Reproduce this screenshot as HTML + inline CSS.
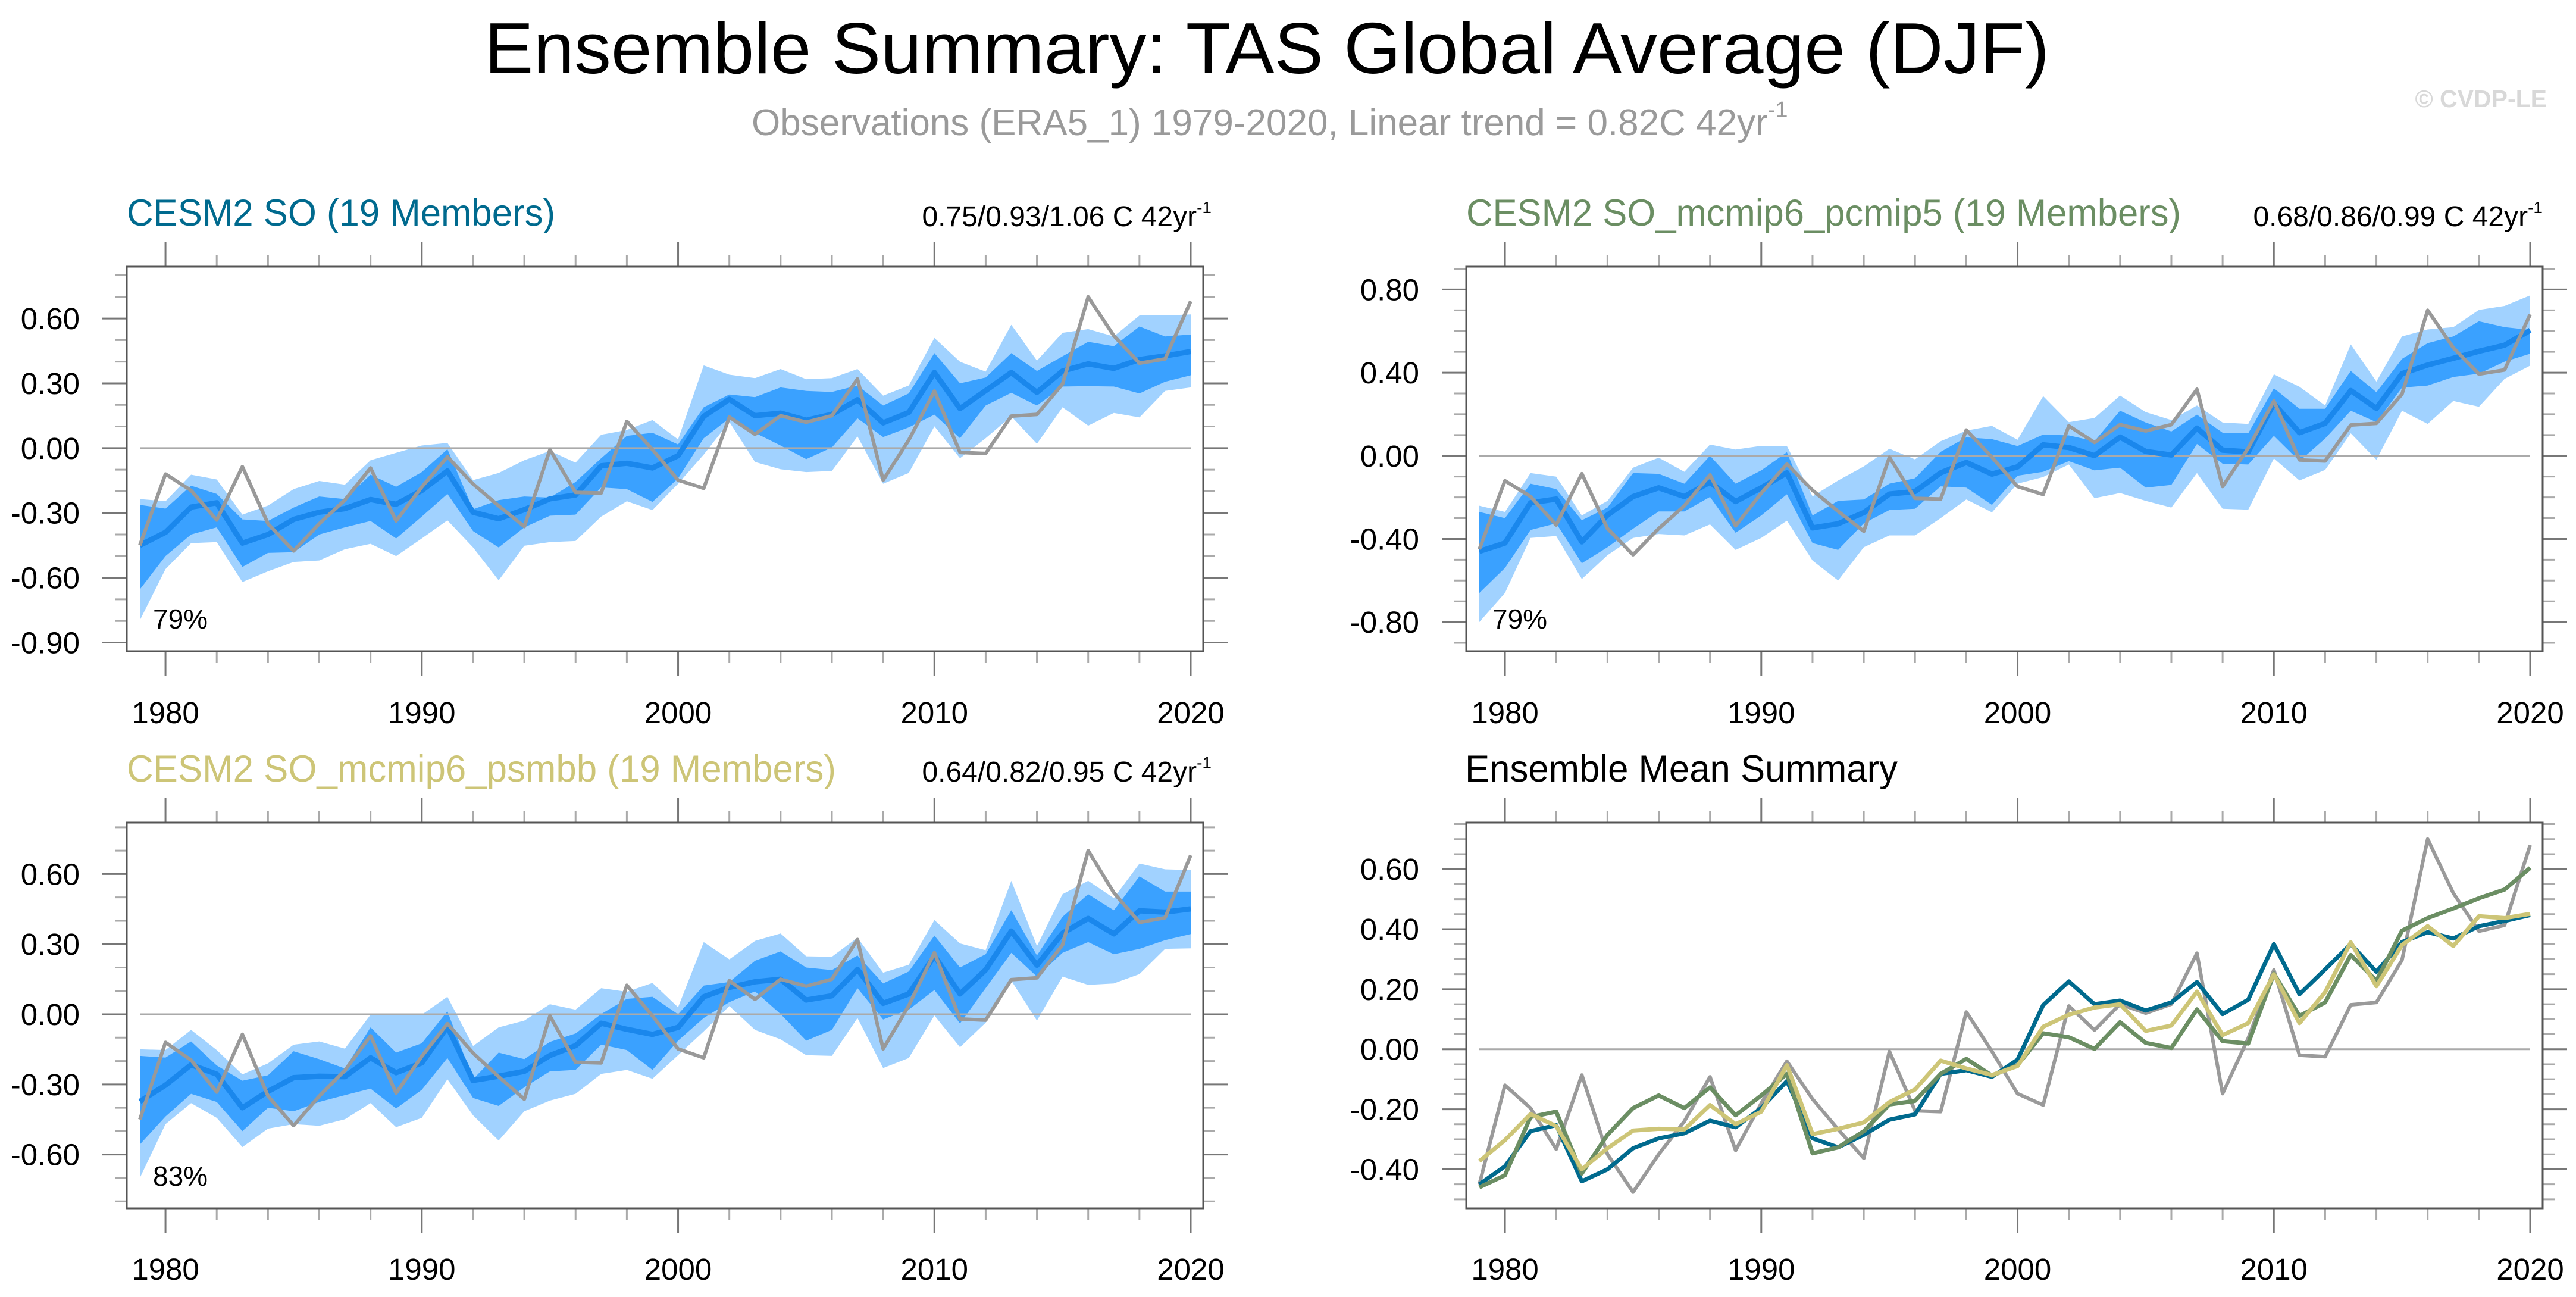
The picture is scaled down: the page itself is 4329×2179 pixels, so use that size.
<!DOCTYPE html>
<html><head><meta charset="utf-8">
<style>
html,body{margin:0;padding:0;background:#fff;}
svg{display:block;font-family:"Liberation Sans",Arial,sans-serif;}
</style></head>
<body>
<svg id="chart" xmlns="http://www.w3.org/2000/svg" width="4329" height="2179" viewBox="0 0 4329 2179">
<rect width="4329" height="2179" fill="#fff"/>
<text x="814" y="123" font-size="122" fill="#000" textLength="2630" lengthAdjust="spacingAndGlyphs">Ensemble Summary: TAS Global Average (DJF)</text>
<text x="1263" y="227" font-size="62" fill="#9a9a9a">Observations (ERA5_1) 1979-2020, Linear trend = 0.82C 42yr<tspan font-size="38" dy="-30">-1</tspan></text>
<text x="4280" y="180" font-size="41" font-weight="bold" fill="#d8d8d8" text-anchor="end">© CVDP-LE</text>

<text x="213" y="379" font-size="63" fill="#006a8e" textLength="720" lengthAdjust="spacingAndGlyphs">CESM2 SO (19 Members)</text>
<text x="2036" y="380" font-size="48" fill="#000" text-anchor="end">0.75/0.93/1.06 C 42yr<tspan font-size="28" dy="-22">-1</tspan></text>
<text x="2464" y="379" font-size="63" fill="#6b8e63" textLength="1201" lengthAdjust="spacingAndGlyphs">CESM2 SO_mcmip6_pcmip5 (19 Members)</text>
<text x="4273" y="380" font-size="48" fill="#000" text-anchor="end">0.68/0.86/0.99 C 42yr<tspan font-size="28" dy="-22">-1</tspan></text>
<text x="213" y="1313" font-size="63" fill="#cdc577" textLength="1192" lengthAdjust="spacingAndGlyphs">CESM2 SO_mcmip6_psmbb (19 Members)</text>
<text x="2036" y="1313" font-size="48" fill="#000" text-anchor="end">0.64/0.82/0.95 C 42yr<tspan font-size="28" dy="-22">-1</tspan></text>
<text x="2462" y="1313" font-size="63" fill="#000" textLength="727" lengthAdjust="spacingAndGlyphs">Ensemble Mean Summary</text>
<g id="plots"></g>
</svg>
<script>
// ---- data (1979-2020) ----
const yearStart = 1979;
const yearEnd = 2020;
const xTickLabels = ["1980","1990","2000","2010","2020"];
const obs = [-0.45,-0.12,-0.196,-0.333,-0.086,-0.35,-0.476,-0.35,-0.24,-0.092,-0.337,-0.18,-0.04,-0.166,-0.267,-0.363,-0.007,-0.205,-0.208,0.124,-0.007,-0.148,-0.186,0.144,0.064,0.15,0.12,0.15,0.32,-0.148,0.037,0.264,-0.02,-0.025,0.148,0.156,0.297,0.70,0.52,0.393,0.413,0.68];
const meanSO = [-0.45,-0.39,-0.273,-0.253,-0.44,-0.40,-0.33,-0.297,-0.28,-0.238,-0.26,-0.196,-0.106,-0.297,-0.327,-0.285,-0.235,-0.217,-0.082,-0.07,-0.092,-0.035,0.147,0.226,0.15,0.162,0.129,0.156,0.224,0.117,0.165,0.35,0.183,0.266,0.35,0.258,0.357,0.39,0.369,0.41,0.427,0.447];
const meanP5 = [-0.46,-0.42,-0.226,-0.208,-0.414,-0.285,-0.196,-0.154,-0.196,-0.127,-0.22,-0.154,-0.082,-0.347,-0.327,-0.273,-0.184,-0.172,-0.082,-0.032,-0.088,-0.053,0.053,0.04,0.001,0.09,0.021,0.004,0.133,0.027,0.019,0.252,0.111,0.156,0.314,0.228,0.395,0.437,0.469,0.503,0.532,0.604];
const meanBB = [-0.373,-0.303,-0.216,-0.256,-0.40,-0.33,-0.271,-0.265,-0.267,-0.186,-0.25,-0.208,-0.053,-0.283,-0.265,-0.244,-0.176,-0.134,-0.038,-0.064,-0.086,-0.056,0.075,0.115,0.139,0.15,0.061,0.079,0.192,0.047,0.087,0.25,0.087,0.19,0.356,0.21,0.347,0.41,0.344,0.443,0.437,0.451];
// SO bands
const soOuterHi = [-0.236,-0.246,-0.123,-0.145,-0.308,-0.266,-0.19,-0.152,-0.169,-0.056,-0.022,0.012,0.024,-0.148,-0.115,-0.056,-0.013,-0.067,0.062,0.084,0.13,0.04,0.383,0.34,0.324,0.366,0.319,0.324,0.366,0.243,0.29,0.51,0.40,0.354,0.571,0.405,0.534,0.551,0.517,0.614,0.614,0.619];
const soInnerHi = [-0.263,-0.28,-0.174,-0.212,-0.33,-0.337,-0.275,-0.224,-0.236,-0.123,-0.179,-0.111,-0.005,-0.283,-0.241,-0.224,-0.229,-0.157,-0.047,0.057,0.071,0.017,0.189,0.248,0.236,0.281,0.265,0.26,0.29,0.197,0.253,0.44,0.30,0.327,0.44,0.357,0.425,0.492,0.472,0.563,0.517,0.526];
const soInnerLo = [-0.654,-0.50,-0.40,-0.367,-0.55,-0.485,-0.482,-0.40,-0.367,-0.337,-0.418,-0.317,-0.212,-0.384,-0.46,-0.367,-0.313,-0.308,-0.182,-0.19,-0.249,-0.14,0.046,0.138,0.071,0.012,-0.051,0.003,0.138,0.051,0.096,0.155,0.046,0.197,0.256,0.197,0.285,0.287,0.285,0.253,0.307,0.337];
const soOuterLo = [-0.797,-0.56,-0.44,-0.435,-0.62,-0.57,-0.527,-0.52,-0.468,-0.443,-0.50,-0.418,-0.334,-0.46,-0.612,-0.452,-0.435,-0.43,-0.317,-0.246,-0.287,-0.165,-0.03,0.121,-0.064,-0.098,-0.111,-0.106,0.054,-0.165,-0.115,0.101,-0.047,0.046,0.147,0.02,0.189,0.104,0.163,0.142,0.265,0.281];
// pcmip5 bands
const p5OuterHi = [-0.24,-0.27,-0.083,-0.10,-0.287,-0.217,-0.057,-0.009,-0.077,0.054,0.03,0.048,0.047,-0.195,-0.119,-0.051,0.034,-0.017,0.07,0.121,0.144,0.077,0.287,0.162,0.182,0.29,0.21,0.172,0.242,0.16,0.153,0.392,0.332,0.242,0.536,0.357,0.574,0.608,0.619,0.702,0.721,0.772];
const p5InnerHi = [-0.27,-0.30,-0.134,-0.16,-0.31,-0.249,-0.083,-0.087,-0.134,0.0,-0.134,-0.07,0.017,-0.287,-0.217,-0.21,-0.134,-0.108,0.019,0.089,0.08,0.047,0.102,0.098,0.07,0.217,0.16,0.117,0.198,0.111,0.108,0.325,0.226,0.226,0.408,0.306,0.466,0.542,0.574,0.647,0.619,0.606];
const p5InnerLo = [-0.66,-0.54,-0.357,-0.325,-0.517,-0.44,-0.351,-0.268,-0.268,-0.198,-0.37,-0.287,-0.185,-0.42,-0.453,-0.325,-0.261,-0.255,-0.147,-0.153,-0.236,-0.096,-0.077,-0.026,-0.07,-0.057,-0.153,-0.14,0.057,-0.038,-0.042,0.096,-0.026,0.083,0.217,0.162,0.328,0.338,0.379,0.395,0.453,0.491];
const p5OuterLo = [-0.80,-0.66,-0.395,-0.386,-0.593,-0.478,-0.395,-0.376,-0.383,-0.33,-0.453,-0.395,-0.312,-0.504,-0.60,-0.44,-0.383,-0.383,-0.30,-0.21,-0.272,-0.134,-0.102,-0.042,-0.204,-0.179,-0.217,-0.249,-0.083,-0.255,-0.259,-0.013,-0.119,-0.068,0.108,-0.019,0.217,0.153,0.264,0.236,0.37,0.434];
// psmbb bands
const bbOuterHi = [-0.15,-0.153,-0.067,-0.153,-0.257,-0.21,-0.13,-0.116,-0.147,-0.002,-0.005,-0.002,0.075,-0.136,-0.056,-0.027,0.043,0.02,0.112,0.096,0.134,0.03,0.309,0.235,0.314,0.346,0.248,0.246,0.328,0.178,0.212,0.403,0.303,0.274,0.571,0.292,0.514,0.571,0.497,0.645,0.62,0.617];
const bbInnerHi = [-0.178,-0.185,-0.116,-0.219,-0.284,-0.261,-0.158,-0.192,-0.232,-0.056,-0.164,-0.124,0.013,-0.278,-0.164,-0.192,-0.118,-0.082,0.001,0.066,0.075,0.0,0.123,0.138,0.229,0.269,0.20,0.189,0.252,0.132,0.183,0.337,0.20,0.257,0.445,0.252,0.417,0.514,0.445,0.59,0.525,0.525];
const bbInnerLo = [-0.557,-0.437,-0.34,-0.375,-0.50,-0.40,-0.415,-0.375,-0.346,-0.318,-0.403,-0.323,-0.187,-0.358,-0.392,-0.312,-0.244,-0.238,-0.13,-0.153,-0.238,-0.113,-0.016,0.052,0.098,0.001,-0.113,-0.067,0.112,-0.022,0.02,0.104,-0.039,0.112,0.263,0.161,0.263,0.309,0.257,0.28,0.317,0.343];
const bbOuterLo = [-0.70,-0.47,-0.38,-0.443,-0.568,-0.489,-0.47,-0.477,-0.449,-0.38,-0.483,-0.443,-0.278,-0.432,-0.54,-0.415,-0.369,-0.34,-0.255,-0.238,-0.276,-0.175,-0.073,0.035,-0.067,-0.107,-0.175,-0.178,-0.016,-0.23,-0.187,-0.005,-0.141,-0.036,0.144,-0.027,0.161,0.126,0.132,0.172,0.28,0.282];

const NS = "http://www.w3.org/2000/svg";
const root = document.getElementById('plots');
function mk(tag, attrs, parent) {
  const e = document.createElementNS(NS, tag);
  for (const k in attrs) e.setAttribute(k, attrs[k]);
  (parent || root).appendChild(e);
  return e;
}
const panels = {
  tl: {x0:213, x1:2022, y0:448, y1:1094, vmax:0.84, vmin:-0.94, major:0.3, minor:0.1, yl:1215},
  tr: {x0:2464, x1:4273, y0:448, y1:1094, vmax:0.91, vmin:-0.94, major:0.4, minor:0.1, yl:1215},
  bl: {x0:213, x1:2022, y0:1382, y1:2030, vmax:0.82, vmin:-0.83, major:0.3, minor:0.1, yl:2150},
  br: {x0:2464, x1:4273, y0:1382, y1:2030, vmax:0.755, vmin:-0.53, major:0.2, minor:0.05, yl:2150}
};
function xs(p, yr) { return p.x0 + 22 + (yr - yearStart) * ((p.x1 - 21 - (p.x0 + 22)) / (yearEnd - yearStart)); }
function ys(p, v) { return p.y0 + (p.vmax - v) / (p.vmax - p.vmin) * (p.y1 - p.y0); }
function linePts(p, arr) { return arr.map((v, i) => xs(p, yearStart + i).toFixed(1) + ',' + ys(p, v).toFixed(1)).join(' '); }
function bandPts(p, hi, lo) {
  const a = hi.map((v, i) => xs(p, yearStart + i).toFixed(1) + ',' + ys(p, v).toFixed(1));
  const b = lo.map((v, i) => xs(p, yearStart + i).toFixed(1) + ',' + ys(p, v).toFixed(1)).reverse();
  return a.concat(b).join(' ');
}
function axes(name, p) {
  const g = mk('g', {});
  
  
  const nmin = Math.ceil(p.vmin / p.minor - 1e-6), nmax = Math.floor(p.vmax / p.minor + 1e-6);
  const ratio = Math.round(p.major / p.minor);
  for (let k = nmin; k <= nmax; k++) {
    const v = k * p.minor, y = ys(p, v);
    const isMaj = (k % ratio === 0);
    const L = isMaj ? 41 : 20;
    mk('line', {x1:p.x0 - L, x2:p.x0, y1:y, y2:y, stroke: isMaj ? '#777' : '#aaa', 'stroke-width':3}, g);
    mk('line', {x1:p.x1, x2:p.x1 + L, y1:y, y2:y, stroke: isMaj ? '#777' : '#aaa', 'stroke-width':3}, g);
    if (isMaj) {
      const t = mk('text', {x:p.x0 - 79, y:y + 18, 'font-size':51, 'text-anchor':'end', fill:'#000'}, g);
      
      
      t.textContent = (Math.abs(v) < 1e-9 ? 0 : v).toFixed(2);
    }
  }
  for (let yr = 1980; yr <= yearEnd; yr += 2) {
    const x = xs(p, yr), isMaj = (yr % 10 === 0), L = isMaj ? 41 : 20;
    mk('line', {x1:x, x2:x, y1:p.y0 - L, y2:p.y0, stroke: isMaj ? '#777' : '#aaa', 'stroke-width':3}, g);
    mk('line', {x1:x, x2:x, y1:p.y1, y2:p.y1 + L, stroke: isMaj ? '#777' : '#aaa', 'stroke-width':3}, g);
  }
  xTickLabels.forEach(lbl => {
    const t = mk('text', {x:xs(p, +lbl), y:p.yl, 'font-size':51, 'text-anchor':'middle', fill:'#000'}, g);
    
    
    t.textContent = lbl;
  });
}
function frame(name, p) {
  const r = mk('rect', {x:p.x0, y:p.y0, width:p.x1 - p.x0, height:p.y1 - p.y0, fill:'none', stroke:'#555', 'stroke-width':3});
  
  
}
function zero(name, p) {
  const l = mk('line', {x1:xs(p, yearStart), x2:xs(p, yearEnd), y1:ys(p, 0), y2:ys(p, 0), stroke:'#aaa', 'stroke-width':3});
  
  
}
function bandPanel(name, p, oh, ih, il, ol, mean, pct) {
  axes(name, p);
  const b1 = mk('polygon', {points:bandPts(p, oh, ol), fill:'#a1d2ff'});
  
  
  const b2 = mk('polygon', {points:bandPts(p, ih, il), fill:'#3aa1ff'});
  
  
  zero(name, p);
  const m = mk('polyline', {points:linePts(p, mean), fill:'none', stroke:'#1a87ec', 'stroke-width':9, 'stroke-linejoin':'round'});
  
  
  const o = mk('polyline', {points:linePts(p, obs), fill:'none', stroke:'#999', 'stroke-width':6, 'stroke-linejoin':'round'});
  
  
  frame(name, p);
  const t = mk('text', {x:p.x0 + 44, y:p.y1 - 38, 'font-size':46, fill:'#000'});
  
  
  t.textContent = pct;
}
bandPanel('tl', panels.tl, soOuterHi, soInnerHi, soInnerLo, soOuterLo, meanSO, '79%');
bandPanel('tr', panels.tr, p5OuterHi, p5InnerHi, p5InnerLo, p5OuterLo, meanP5, '79%');
bandPanel('bl', panels.bl, bbOuterHi, bbInnerHi, bbInnerLo, bbOuterLo, meanBB, '83%');
(function(){
  const p = panels.br;
  axes('br', p);
  zero('br', p);
  const o = mk('polyline', {points:linePts(p, obs), fill:'none', stroke:'#9a9a9a', 'stroke-width':6, 'stroke-linejoin':'round'});
  
  
  const a = mk('polyline', {points:linePts(p, meanSO), fill:'none', stroke:'#006a8e', 'stroke-width':7, 'stroke-linejoin':'round'});
  
  
  const b = mk('polyline', {points:linePts(p, meanP5), fill:'none', stroke:'#6b8e63', 'stroke-width':7, 'stroke-linejoin':'round'});
  
  
  const c = mk('polyline', {points:linePts(p, meanBB), fill:'none', stroke:'#cdc577', 'stroke-width':7, 'stroke-linejoin':'round'});
  
  
  frame('br', p);
})();
</script>
</body></html>
